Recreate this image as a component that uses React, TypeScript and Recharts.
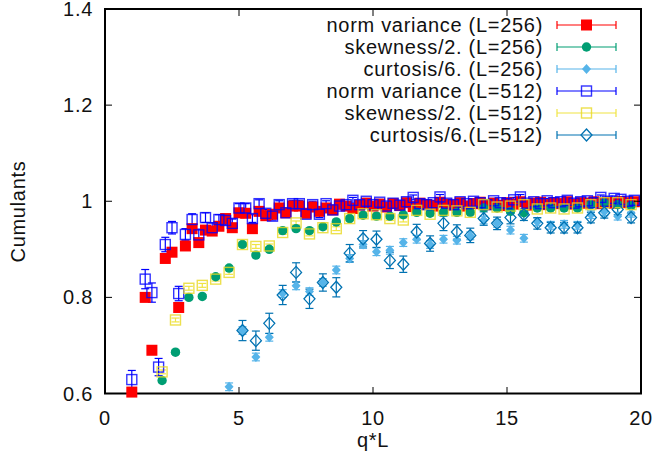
import React from 'react';
import { ScatterChart, Scatter, XAxis, YAxis, ErrorBar, ReferenceArea } from 'recharts';

const W = 656;
const H = 467;
const MARGIN = { top: 9, right: 15, left: 45, bottom: 43 };
const Y_AXIS_W = 60;
const X_AXIS_H = 30;
const PLOT_W = W - MARGIN.left - MARGIN.right - Y_AXIS_W;
const PLOT_H = H - MARGIN.top - MARGIN.bottom - X_AXIS_H;
const FONT = '"Liberation Sans", Arial, Helvetica, sans-serif';
const TEXT_STYLE = { fontFamily: FONT, fontSize: 20, letterSpacing: 0.7, fill: '#111' };

const xTicks = [0, 5, 10, 15, 20];
const yTicks = [0.6, 0.8, 1, 1.2, 1.4];

// q*L positions of the norm variance points
const qFine = [
  1.0, 1.25, 1.5, 1.75, 2.0, 2.25, 2.5, 2.75, 3.0, 3.25, 3.5, 3.75, 4.0, 4.25, 4.5, 4.75,
  5.0, 5.25, 5.5, 5.75, 6.0, 6.25, 6.5, 6.75, 7.0, 7.25, 7.5, 7.75, 8.0, 8.25, 8.5, 8.75,
  9.0, 9.25, 9.5, 9.75, 10.0, 10.25, 10.5, 10.75, 11.0, 11.25, 11.5, 11.75, 12.0, 12.25, 12.5, 12.75,
  13.0, 13.25, 13.5, 13.75, 14.0, 14.25, 14.5, 14.75, 15.0, 15.25, 15.5, 15.75, 16.0, 16.25, 16.5, 16.75,
  17.0, 17.25, 17.5, 17.75, 18.0, 18.25, 18.5, 18.75, 19.0, 19.25, 19.5, 19.75,
];

// q*L positions of skewness / curtosis points
const qCoarse = [
  2.13, 2.63, 3.13, 3.63, 4.13, 4.63, 5.13, 5.63, 6.13, 6.63, 7.13, 7.63, 8.13, 8.63, 9.13, 9.63,
  10.13, 10.63, 11.13, 11.63, 12.13, 12.63, 13.13, 13.63, 14.13, 14.63, 15.13, 15.63, 16.13, 16.63,
  17.13, 17.63, 18.13, 18.63, 19.13, 19.63,
];

const normVar256 = [
  0.603, null, 0.800, 0.690, null, 0.881, 0.894, 0.779, 0.907, 0.943, 0.914, 0.940, 0.938, 0.948, 0.964, 0.945,
  0.976, 0.975, 0.943, 0.979, 0.970, 0.973, 0.986, 0.976, 0.990, 0.990, 0.975, 0.988, 0.979, 0.986, 0.982, 0.994,
  0.990, 0.985, 0.992, 0.996, 0.990, 0.994, 0.988, 0.995, 0.991, 0.997, 0.989, 0.996, 0.993, 0.990, 0.998, 0.994,
  0.992, 0.997, 0.990, 0.995, 0.998, 0.993, 0.996, 0.991, 0.997, 0.994, 0.999, 0.992, 0.996, 0.998, 0.993, 0.997,
  0.995, 0.999, 0.994, 0.997, 0.996, 0.999, 0.995, 0.998, 0.996, 0.999, 0.997, 0.999,
];

const normVar512 = [
  0.629, null, 0.838, 0.810, 0.655, 0.910, 0.945, 0.808, 0.931, 0.962, 0.930, 0.966, 0.945, 0.962, 0.960, 0.954,
  0.986, 0.986, 0.964, 0.995, 0.975, 0.969, 0.993, 0.976, 0.995, 0.995, 0.973, 0.993, 0.973, 0.995, 0.982, 0.990,
  0.993, 1.002, 0.993, 1.000, 0.993, 0.998, 0.990, 0.996, 0.992, 0.999, 1.008, 0.995, 0.993, 0.997, 1.009, 0.996,
  0.993, 0.999, 0.995, 1.000, 0.997, 0.993, 1.001, 0.997, 0.995, 1.003, 1.009, 0.996, 0.999, 0.995, 1.001, 0.997,
  0.999, 1.002, 0.996, 0.999, 1.001, 0.997, 1.008, 1.000, 1.006, 1.004, 1.000, 1.002,
];

const normVar512Err = [
  0.019, null, 0.020, 0.020, 0.018, 0.015, 0.013, 0.015, 0.012, 0.012, 0.012, 0.010, 0.010, 0.010, 0.009, 0.009,
  0.009, 0.009, 0.008, 0.008, 0.008, 0.008, 0.008, 0.007, 0.007, 0.007, 0.007, 0.007, 0.007, 0.006, 0.006, 0.006,
  0.006, 0.006, 0.006, 0.006, 0.006, 0.006, 0.005, 0.005, 0.005, 0.005, 0.005, 0.005, 0.005, 0.005, 0.005, 0.005,
  0.005, 0.005, 0.005, 0.005, 0.005, 0.005, 0.005, 0.005, 0.005, 0.005, 0.005, 0.005, 0.005, 0.005, 0.005, 0.005,
  0.005, 0.005, 0.005, 0.005, 0.005, 0.005, 0.005, 0.005, 0.005, 0.005, 0.005, 0.005,
];

const skew256 = [
  0.627, 0.686, 0.800, 0.802, 0.843, 0.861, 0.910, 0.888, 0.900, 0.939, 0.943, 0.939, 0.947, 0.957, 0.964, 0.971,
  0.969, 0.969, 0.972, 0.977, 0.975, 0.977, 0.977, 0.977, 0.986, 0.986, 0.979, 0.976, 0.986, 0.986,
  0.986, 0.986, 0.993, 0.997, 0.993, 0.991,
];

const skew512 = [
  0.645, 0.753, 0.819, 0.825, 0.838, 0.852, 0.910, 0.906, 0.907, 0.935, 0.955, 0.932, 0.945, 0.943, 0.964, 0.974,
  0.972, 0.964, 0.961, 0.981, 0.973, 0.981, 0.980, 0.977, 0.993, 0.988, 0.990, 0.993, 0.984, 0.986,
  0.984, 0.986, 0.993, 0.997, 0.997, 0.993,
];

const curt256 = [
  null, null, null, null, null, 0.614, 0.731, 0.676, 0.717, 0.808, 0.824, 0.812, 0.831, 0.857, 0.881, 0.910,
  0.895, 0.898, 0.914, 0.921, 0.910, 0.921, 0.919, 0.928, 0.961, 0.954, 0.940, 0.923, 0.957, 0.950,
  0.952, 0.950, 0.972, 0.978, 0.969, 0.975,
];

const curt512 = [
  null, null, null, null, null, null, 0.731, 0.710, 0.746, 0.805, 0.852, 0.797, 0.831, 0.821, 0.892, 0.922,
  0.921, 0.877, 0.869, 0.936, 0.912, 0.954, 0.936, 0.929, 0.964, 0.954, 0.966, 0.972, 0.954, 0.945,
  0.945, 0.945, 0.966, 0.976, 0.983, 0.966,
];

const curt512Err = [
  null, null, null, null, null, null, 0.021, 0.020, 0.021, 0.020, 0.020, 0.020, 0.018, 0.020, 0.018, 0.017,
  0.017, 0.017, 0.017, 0.016, 0.016, 0.015, 0.015, 0.015, 0.014, 0.013, 0.013, 0.012, 0.012, 0.011,
  0.011, 0.011, 0.011, 0.011, 0.011, 0.011,
];

const toPoints = (xs: number[], ys: (number | null)[], errs: (number | null)[] | number) =>
  xs
    .map((x, i) => ({ x, y: ys[i], err: typeof errs === 'number' ? errs : errs[i] }))
    .filter((p) => p.y !== null);

// marker shapes (gnuplot-like point types)
const filledSquare = (color: string) => ({ cx, cy }: any) => (
  <rect x={cx - 5.5} y={cy - 5.5} width={11} height={11} fill={color} />
);
const openSquare = (color: string) => ({ cx, cy }: any) => (
  <rect x={cx - 5} y={cy - 5} width={10} height={10} fill="none" stroke={color} strokeWidth={1.4} strokeOpacity={0.8} />
);
const filledCircle = (color: string) => ({ cx, cy }: any) => <circle cx={cx} cy={cy} r={4.7} fill={color} />;
const filledDiamond = (color: string) => ({ cx, cy }: any) => (
  <path d={`M${cx},${cy - 5} L${cx + 4.5},${cy} L${cx},${cy + 5} L${cx - 4.5},${cy} Z`} fill={color} />
);
const openDiamond = (color: string) => ({ cx, cy }: any) => (
  <path
    d={`M${cx},${cy - 6} L${cx + 5.5},${cy} L${cx},${cy + 6} L${cx - 5.5},${cy} Z`}
    fill="none"
    stroke={color}
    strokeWidth={1.3}
  />
);

const SERIES = [
  { name: 'norm variance (L=256)', color: '#ff0000', data: toPoints(qFine, normVar256, 0.004), shape: filledSquare('#ff0000') },
  { name: 'skewness/2. (L=256)', color: '#009e73', data: toPoints(qCoarse, skew256, 0.004), shape: filledCircle('#009e73') },
  { name: 'curtosis/6. (L=256)', color: '#56b4e9', data: toPoints(qCoarse, curt256, 0.008), shape: filledDiamond('#56b4e9') },
  { name: 'norm variance (L=512)', color: '#0000ff', data: toPoints(qFine, normVar512, normVar512Err), shape: openSquare('#0000ff') },
  { name: 'skewness/2. (L=512)', color: '#f0e442', data: toPoints(qCoarse, skew512, 0.004), shape: openSquare('#e8d820') },
  { name: 'curtosis/6.(L=512)', color: '#0072b2', data: toPoints(qCoarse, curt512, curt512Err), shape: openDiamond('#0072b2') },
];

const XTick = ({ x, y, payload }: any) => (
  <g>
    <line x1={x} x2={x} y1={y} y2={y - 7} stroke="#000" strokeWidth={1} />
    <line x1={x} x2={x} y1={y - PLOT_H} y2={y - PLOT_H + 7} stroke="#000" strokeWidth={1} />
    <text x={x} y={y + 31} textAnchor="middle" style={TEXT_STYLE}>
      {payload.value}
    </text>
  </g>
);

const YTick = ({ x, y, payload }: any) => (
  <g>
    <line x1={x} x2={x + 7} y1={y} y2={y} stroke="#000" strokeWidth={1} />
    <line x1={x + PLOT_W} x2={x + PLOT_W - 7} y1={y} y2={y} stroke="#000" strokeWidth={1} />
    <text x={x - 12} y={y + 7} textAnchor="end" style={TEXT_STYLE}>
      {payload.value}
    </text>
  </g>
);

const LEGEND_TEXT_RIGHT = 543;
const LEGEND_LINE = [557, 616];
const LEGEND_TOP = 25;
const LEGEND_ROW = 22;

const Overlay = () => {
  const plotLeft = MARGIN.left + Y_AXIS_W;
  return (
    <svg width={W} height={H} style={{ position: 'absolute', left: 0, top: 0, pointerEvents: 'none' }}>
      {SERIES.map((s, i) => {
        const y = LEGEND_TOP + i * LEGEND_ROW;
        const [x1, x2] = LEGEND_LINE;
        const mid = (x1 + x2) / 2;
        return (
          <g key={s.name}>
            <text x={LEGEND_TEXT_RIGHT} y={y + 7} textAnchor="end" style={TEXT_STYLE}>
              {s.name}
            </text>
            <line x1={x1} x2={x2} y1={y} y2={y} stroke={s.color} strokeWidth={1.2} />
            <line x1={x1} x2={x1} y1={y - 4} y2={y + 4} stroke={s.color} strokeWidth={1.2} />
            <line x1={x2} x2={x2} y1={y - 4} y2={y + 4} stroke={s.color} strokeWidth={1.2} />
            {s.shape({ cx: mid, cy: y })}
          </g>
        );
      })}
      <text x={plotLeft + PLOT_W / 2} y={447} textAnchor="middle" style={TEXT_STYLE}>
        q*L
      </text>
      <text
        x={0}
        y={0}
        textAnchor="middle"
        dominantBaseline="central"
        transform={`translate(18, ${MARGIN.top + PLOT_H / 2 + 10}) rotate(-90)`}
        style={TEXT_STYLE}
      >
        Cumulants
      </text>
    </svg>
  );
};

export default function App() {
  return (
    <div style={{ position: 'absolute', left: 0, top: 0, width: W, height: H, background: '#fff' }}>
      <ScatterChart width={W} height={H} margin={MARGIN}>
        <XAxis
          type="number"
          dataKey="x"
          domain={[0, 20]}
          ticks={xTicks}
          interval={0}
          height={X_AXIS_H}
          tickSize={0}
          tickMargin={0}
          tickLine={false}
          axisLine={false}
          tick={(p: any) => <XTick {...p} />}
        />
        <YAxis
          type="number"
          dataKey="y"
          domain={[0.6, 1.4]}
          ticks={yTicks}
          interval={0}
          width={Y_AXIS_W}
          tickSize={0}
          tickMargin={0}
          tickLine={false}
          axisLine={false}
          tick={(p: any) => <YTick {...p} />}
        />
        <ReferenceArea x1={0} x2={20} y1={0.6} y2={1.4} fill="none" stroke="#000" strokeWidth={2} fillOpacity={0} />
        {SERIES.map((s) => (
          <Scatter key={s.name} name={s.name} data={s.data} shape={s.shape} isAnimationActive={false}>
            <ErrorBar dataKey="err" direction="y" width={4} stroke={s.color} strokeWidth={1.2} />
          </Scatter>
        ))}
      </ScatterChart>
      <Overlay />
    </div>
  );
}
